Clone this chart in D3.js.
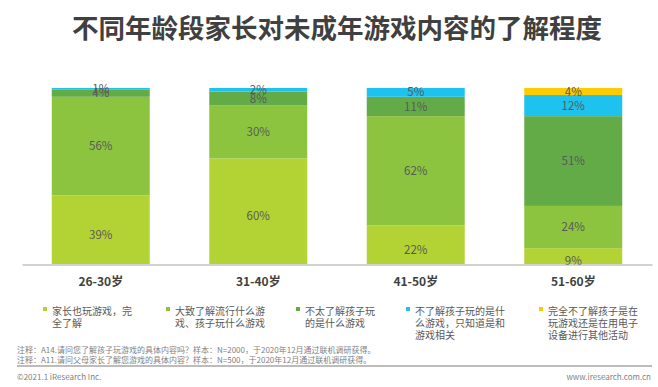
<!DOCTYPE html>
<html>
<head>
<meta charset="utf-8">
<script src="https://cdn.jsdelivr.net/npm/d3@7"></script>
<style>
  body { margin: 0; background: #fff; }
  svg { display: block; font-family: "Noto Sans CJK SC", "Noto Sans", sans-serif; }
</style>
</head>
<body>
<svg id="svg" width="658" height="387"></svg>
<script>
// age groups (x axis)
const ageGroups = ["26-30岁", "31-40岁", "41-50岁", "51-60岁"];

// series, bottom to top
const seriesNames = [
  ["家长也玩游戏，完", "全了解"],
  ["大致了解流行什么游", "戏、孩子玩什么游戏"],
  ["不太了解孩子玩", "的是什么游戏"],
  ["不了解孩子玩的是什", "么游戏，只知道是和", "游戏相关"],
  ["完全不了解孩子是在", "玩游戏还是在用电子", "设备进行其他活动"]
];
const seriesColors = ["#b3d234", "#8cc43f", "#63ab46", "#1ec2ee", "#fdcb00"];

// percentages per series, one value per age group
const playToo      = [39, 60, 22, 9];
const knowPopular  = [56, 30, 62, 24];
const notReally    = [4, 8, 11, 51];
const onlyGames    = [1, 2, 5, 12];
const notAtAll     = [0, 0, 0, 4];

const seriesValues = [playToo, knowPopular, notReally, onlyGames, notAtAll];

const notes = [
  "注释：A14.请问您了解孩子玩游戏的具体内容吗？样本：N=2000，于2020年12月通过联机调研获得。",
  "注释：A11.请问父母家长了解您游戏的具体内容？样本：N=500，于2020年12月通过联机调研获得。"
];

const svg = d3.select("#svg");

// title
svg.append("text")
  .attr("x", 337).attr("y", 38)
  .attr("text-anchor", "middle")
  .attr("font-size", 26.5).attr("font-weight", "bold")
  .attr("fill", "#404040")
  .text("不同年龄段家长对未成年游戏内容的了解程度");

const x = d3.scaleBand().domain(ageGroups).range([22, 652])
  .paddingInner(0.378).paddingOuter(0.189);
const y = d3.scaleLinear().domain([0, 100]).range([264, 88]);

// stack the rows
const rows = ageGroups.map((g, i) => {
  const r = { group: g };
  seriesValues.forEach((s, k) => r["s" + k] = s[i]);
  return r;
});
const stack = d3.stack().keys(seriesValues.map((s, k) => "s" + k))(rows);

const layer = svg.append("g").selectAll("g")
  .data(stack)
  .enter().append("g")
    .attr("fill", (d, k) => seriesColors[k]);

layer.selectAll("rect")
  .data(d => d)
  .enter().append("rect")
    .attr("x", d => x(d.data.group))
    .attr("width", x.bandwidth())
    .attr("y", d => y(d[1]))
    .attr("height", d => y(d[0]) - y(d[1]));

// value labels
stack.forEach((s, k) => {
  svg.append("g").selectAll("text")
    .data(s.filter(d => d[1] - d[0] > 0))
    .enter().append("text")
      .attr("x", d => x(d.data.group) + x.bandwidth() / 2)
      .attr("y", d => (y(d[0]) + y(d[1])) / 2 + (k == 0 ? 5 : 0))
      .attr("dy", "0.35em")
      .attr("text-anchor", "middle")
      .attr("font-size", 11.5)
      .attr("fill", "#5a5a5a")
      .text(d => (d[1] - d[0]) + "%");
});

// axis line + category labels
const xAxis = svg.append("g").attr("transform", "translate(0,264.5)")
  .call(d3.axisBottom(x).tickSize(0).tickPadding(13));
xAxis.select(".domain").attr("stroke", "#a6a6a6").attr("stroke-width", 1.2);
xAxis.selectAll("text")
  .attr("font-family", "\"Noto Sans CJK SC\", sans-serif")
  .attr("font-size", 12).attr("font-weight", "bold").attr("fill", "#404040");

// legend
const legendX = [43, 166, 296, 406, 539];
const legend = svg.append("g").selectAll("g")
  .data(seriesNames)
  .enter().append("g")
    .attr("transform", (d, k) => "translate(" + legendX[k] + ",0)");
legend.append("rect")
  .attr("x", 0).attr("y", 307)
  .attr("width", 4).attr("height", 4)
  .attr("fill", (d, k) => seriesColors[k]);
legend.each(function(lines) {
  d3.select(this).selectAll("text")
    .data(lines)
    .enter().append("text")
      .attr("x", 9)
      .attr("y", (t, j) => 315 + j * 12)
      .attr("font-size", 10)
      .attr("fill", "#595959")
      .text(t => t);
});

// notes
svg.append("g").selectAll("text")
  .data(notes)
  .enter().append("text")
    .attr("x", 17)
    .attr("y", (t, j) => 353 + j * 10)
    .attr("font-size", 8)
    .attr("fill", "#7f7f7f")
    .text(t => t);

svg.append("line")
  .attr("x1", 17).attr("x2", 652)
  .attr("y1", 366).attr("y2", 366)
  .attr("stroke", "#a6a6a6").attr("stroke-width", 1.5);

svg.append("text")
  .attr("x", 17).attr("y", 380)
  .attr("font-size", 8).attr("fill", "#7f7f7f")
  .text("©2021.1 iResearch Inc.");
svg.append("text")
  .attr("x", 651).attr("y", 380)
  .attr("text-anchor", "end")
  .attr("font-size", 8).attr("fill", "#7f7f7f")
  .text("www.iresearch.com.cn");
</script>
</body>
</html>
